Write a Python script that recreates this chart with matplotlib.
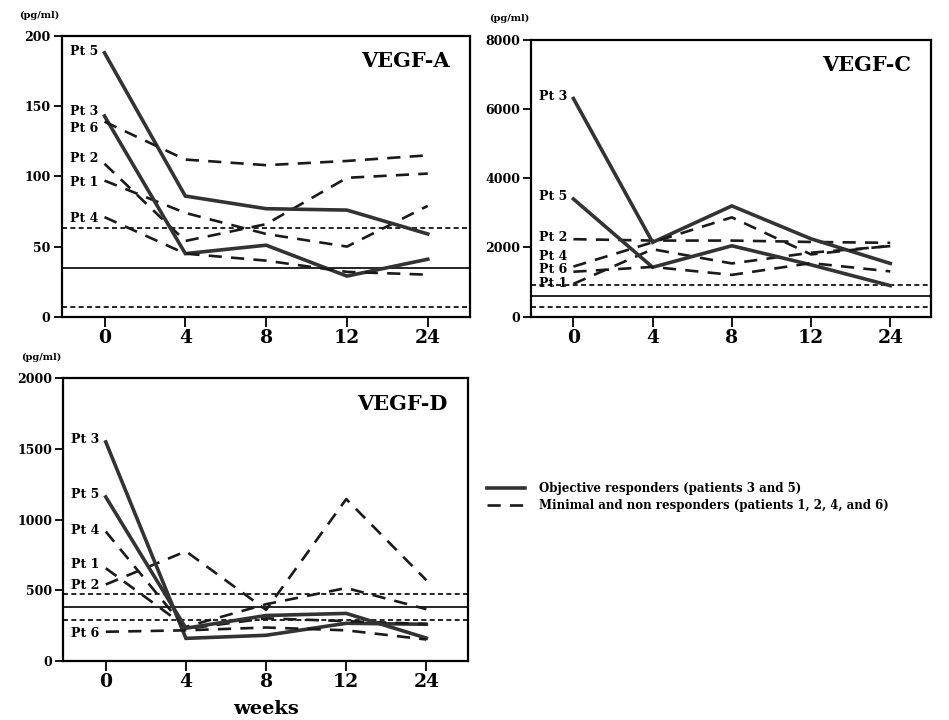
import matplotlib.pyplot as plt
from matplotlib.lines import Line2D

plt.rcParams['font.family'] = ['DejaVu Serif']
plt.rcParams['font.weight'] = 'bold'

weeks = ['0', '4', '8', '12', '24']

# VEGF-A (pg/ml)
a_pt1 = [97, 74, 59, 50, 79]
a_pt2 = [109, 54, 66, 99, 102]
a_pt3 = [143, 45, 51, 29, 41]
a_pt4 = [71, 45, 40, 32, 30]
a_pt5 = [188, 86, 77, 76, 59]
a_pt6 = [139, 112, 108, 111, 115]
a_ref = [35, 63, 7]   # mean, upper, lower

# VEGF-C (pg/ml)
c_pt1 = [950, 1950, 1540, 1850, 2040]
c_pt2 = [2240, 2200, 2200, 2160, 2135]
c_pt3 = [6300, 2150, 3200, 2250, 1540]
c_pt4 = [1450, 2150, 2870, 1800, 2050]
c_pt5 = [3400, 1430, 2050, 1500, 900]
c_pt6 = [1300, 1440, 1210, 1550, 1310]
c_ref = [600, 913, 288]

# VEGF-D (pg/ml)
d_pt1 = [655, 240, 400, 515, 365]
d_pt2 = [540, 775, 360, 1145, 570]
d_pt3 = [1550, 158, 180, 265, 258]
d_pt4 = [915, 225, 300, 280, 260]
d_pt5 = [1160, 230, 320, 335, 160]
d_pt6 = [205, 215, 235, 215, 150]
d_ref = [378, 472, 288]

responders = ['Pt 3', 'Pt 5']

SOLID = dict(color='#333333', lw=2.6, solid_joinstyle='miter')
DASH = dict(color='#1a1a1a', lw=1.9, linestyle=(0, (5, 3.5)))


def draw_panel(ax, series, label_y, ref, ymax, step, title):
    x = range(len(weeks))
    for name, vals in series.items():
        style = SOLID if name in responders else DASH
        ax.plot(x, vals, **style, zorder=3)
        ax.text(-0.08, label_y[name], name, ha='right', va='center',
                fontsize=9, fontweight='bold')
    ax.axhline(ref[0], color='black', lw=1.2, zorder=2)
    for r in ref[1:]:
        ax.axhline(r, color='black', lw=1.2, linestyle=(0, (3, 2)), zorder=2)

    ax.set_xlim(-0.53, 4.52)
    ax.set_ylim(0, ymax)
    ax.set_xticks(list(x))
    ax.set_xticklabels(weeks, fontsize=13.5, fontweight='bold')
    ax.set_yticks(range(0, ymax + 1, step))
    ax.tick_params(axis='y', labelsize=9, length=6, width=1.3, direction='out', pad=2)
    ax.tick_params(axis='x', length=7, width=1.3, direction='out', pad=2)
    for s in ax.spines.values():
        s.set_linewidth(1.6)
    ax.text(0.95, 0.91, title, transform=ax.transAxes, ha='right', va='center',
            fontsize=15, fontweight='bold')
    ax.text(-0.005, 1.075, '(pg/ml)', transform=ax.transAxes, ha='right',
            va='center', fontsize=7, fontweight='bold')


fig = plt.figure(figsize=(9.49, 7.2), dpi=100)
ax_a = fig.add_axes([0.065, 0.560, 0.430, 0.390])
ax_c = fig.add_axes([0.560, 0.560, 0.4215, 0.385])
ax_d = fig.add_axes([0.0667, 0.0824, 0.4265, 0.392])

draw_panel(ax_a,
           {'Pt 1': a_pt1, 'Pt 2': a_pt2, 'Pt 3': a_pt3,
            'Pt 4': a_pt4, 'Pt 5': a_pt5, 'Pt 6': a_pt6},
           {'Pt 1': 96, 'Pt 2': 113, 'Pt 3': 146, 'Pt 4': 70, 'Pt 5': 189, 'Pt 6': 134},
           a_ref, 200, 50, 'VEGF-A')
draw_panel(ax_c,
           {'Pt 1': c_pt1, 'Pt 2': c_pt2, 'Pt 3': c_pt3,
            'Pt 4': c_pt4, 'Pt 5': c_pt5, 'Pt 6': c_pt6},
           {'Pt 1': 960, 'Pt 2': 2300, 'Pt 3': 6370, 'Pt 4': 1730, 'Pt 5': 3460, 'Pt 6': 1370},
           c_ref, 8000, 2000, 'VEGF-C')
draw_panel(ax_d,
           {'Pt 1': d_pt1, 'Pt 2': d_pt2, 'Pt 3': d_pt3,
            'Pt 4': d_pt4, 'Pt 5': d_pt5, 'Pt 6': d_pt6},
           {'Pt 1': 680, 'Pt 2': 536, 'Pt 3': 1570, 'Pt 4': 920, 'Pt 5': 1180, 'Pt 6': 195},
           d_ref, 2000, 500, 'VEGF-D')
ax_d.set_xlabel('weeks', fontsize=14, fontweight='bold')
ax_d.xaxis.set_label_coords(0.5, -0.14)

handles = [Line2D([], [], **SOLID), Line2D([], [], **DASH)]
fig.legend(handles,
           ['Objective responders (patients 3 and 5)',
            'Minimal and non responders (patients 1, 2, 4, and 6)'],
           loc='center left', bbox_to_anchor=(0.502, 0.31), frameon=False,
           fontsize=8.5, handlelength=3.2, handletextpad=1.2, labelspacing=0.35)

fig.savefig('out.png', dpi=100)
